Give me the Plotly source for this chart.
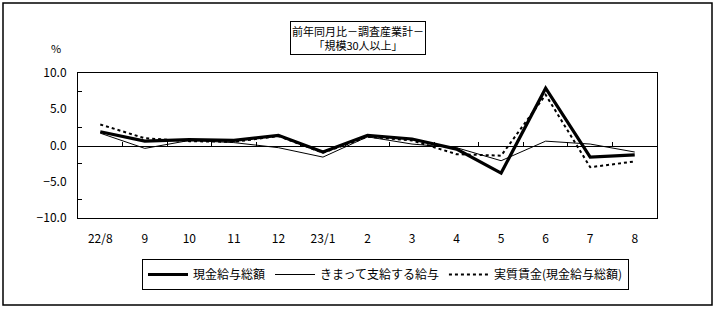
import plotly.graph_objects as go

categories = ["22/8", "9", "10", "11", "12", "23/1", "2", "3", "4", "5", "6", "7", "8"]
genkin = [1.9, 0.6, 0.8, 0.7, 1.4, -0.9, 1.4, 0.9, -0.5, -3.8, 7.9, -1.6, -1.3]
kimatte = [1.7, -0.4, 0.7, 0.4, -0.3, -1.6, 1.2, 0.2, -0.3, -2.1, 0.6, 0.2, -0.9]
jisshitsu = [2.9, 1.0, 0.6, 0.5, 1.3, -1.0, 1.2, 0.7, -1.2, -1.4, 7.0, -3.0, -2.2]
series_names = ["現金給与総額", "きまって支給する給与", "実質賃金(現金給与総額)"]
title_text = "前年同月比－調査産業計－<br>「規模30人以上」"

FONT = "Noto Sans CJK JP, sans-serif"
W, H = 716, 309
L, R, T, B = 78, 59, 73, 91
pw, ph = W - L - R, H - T - B

def px(x):
    return (x - L) / pw

def py(y):
    return (H - B - y) / ph

fig = go.Figure()
fig.add_trace(go.Scatter(x=categories, y=genkin, mode="lines", name=series_names[0],
                         line=dict(color="black", width=3.2)))
fig.add_trace(go.Scatter(x=categories, y=kimatte, mode="lines", name=series_names[1],
                         line=dict(color="black", width=1)))
fig.add_trace(go.Scatter(x=categories, y=jisshitsu, mode="lines", name=series_names[2],
                         line=dict(color="black", width=2, dash="dot")))

fig.update_layout(
    width=W, height=H,
    margin=dict(l=L, r=R, t=T, b=B),
    paper_bgcolor="white", plot_bgcolor="white",
    font=dict(family=FONT, size=11, color="black"),
    showlegend=True,
    legend=dict(orientation="h", x=px(142), y=py(259), xanchor="left", yanchor="top",
                bordercolor="black", borderwidth=1, bgcolor="white",
                font=dict(size=12), itemwidth=40, tracegroupgap=0),
    xaxis=dict(type="category", categoryorder="array", categoryarray=categories,
               range=[-0.5, len(categories) - 0.5],
               showgrid=False, zeroline=False, showline=True, linecolor="black", linewidth=1,
               mirror=True, ticks="", ticklabelstandoff=10,
               tickfont=dict(size=12)),
    xaxis2=dict(type="category", categoryorder="array", categoryarray=categories,
                range=[-0.5, len(categories) - 0.5],
                overlaying="x", anchor="free", position=0.5, side="bottom",
                showgrid=False, showline=True, linecolor="black", linewidth=1,
                ticks="inside", tickson="boundaries", ticklen=4, tickcolor="black",
                showticklabels=False),
    yaxis=dict(range=[-10, 10], dtick=5, tickformat=".1f", showgrid=False, zeroline=False,
               showline=True, linecolor="black", linewidth=1, mirror=True, ticks="",
               tickfont=dict(size=12), ticklabelstandoff=8,
               minor=dict(ticks="inside", tick0=2.5, dtick=5, ticklen=4, tickcolor="black")),
)

fig.add_trace(go.Scatter(x=categories, y=[None] * len(categories), xaxis="x2",
                         showlegend=False, hoverinfo="skip"))

fig.add_annotation(text=title_text, xref="paper", yref="paper",
                   x=px(357.5), y=py(38), xanchor="center", yanchor="middle", showarrow=False,
                   bordercolor="black", borderwidth=1, borderpad=1, bgcolor="white",
                   font=dict(size=11), align="center")
fig.add_annotation(text="%", xref="paper", yref="paper", x=px(56), y=py(48),
                   xanchor="center", yanchor="middle", showarrow=False, font=dict(size=11))
fig.add_shape(type="rect", xref="paper", yref="paper",
              x0=px(3), x1=px(712), y0=py(3), y1=py(305),
              line=dict(color="black", width=1.5), layer="below")

fig.write_html("out.html")
